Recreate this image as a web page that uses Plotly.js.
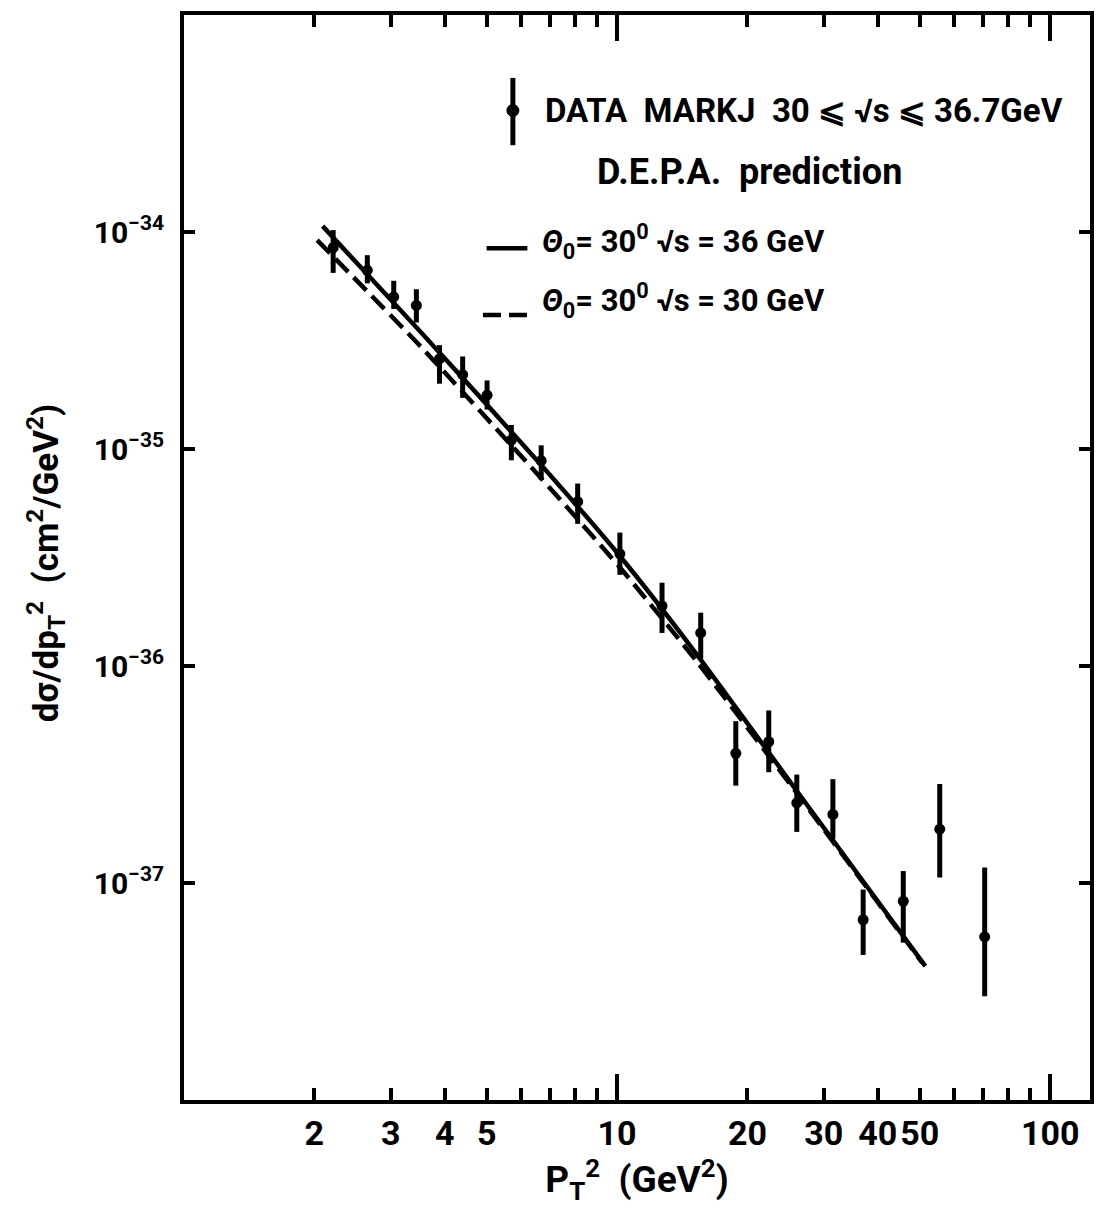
<!DOCTYPE html>
<html>
<head>
<meta charset="utf-8">
<script src="https://cdn.plot.ly/plotly-3.0.1.min.js"></script>
<style>html,body{margin:0;padding:0;background:#fff;}#chart{width:1096px;height:1218px;}</style>
</head>
<body>
<div id="chart"></div>
<script>
// ---- data ----
const ptSq   = [2.21, 2.65, 3.05, 3.44, 3.89, 4.40, 5.01, 5.70, 6.68, 8.11, 10.15, 12.7, 15.6, 18.8, 22.4, 26.0, 31.5, 37.0, 45.8, 55.6, 70.6];
const dsig   = [8.48e-35, 6.66e-35, 5.02e-35, 4.59e-35, 2.60e-35, 2.20e-35, 1.77e-35, 1.10e-35, 8.83e-36, 5.72e-36, 3.29e-36, 1.89e-36, 1.42e-36, 3.96e-37, 4.48e-37, 2.34e-37, 2.07e-37, 6.77e-38, 8.24e-38, 1.77e-37, 5.65e-38];
const dsigHi = [1.02e-34, 7.82e-35, 5.96e-35, 5.45e-35, 3.01e-35, 2.67e-35, 2.07e-35, 1.29e-35, 1.04e-35, 6.93e-36, 4.12e-36, 2.42e-36, 1.76e-36, 5.57e-37, 6.24e-37, 3.16e-37, 3.01e-37, 9.33e-38, 1.135e-37, 2.86e-37, 1.18e-37];
const dsigLo = [6.48e-35, 5.80e-35, 4.42e-35, 3.83e-35, 2.00e-35, 1.72e-35, 1.52e-35, 8.87e-36, 7.21e-36, 4.52e-36, 2.63e-36, 1.42e-36, 1.08e-36, 2.81e-37, 3.24e-37, 1.72e-37, 1.60e-37, 4.66e-38, 5.31e-38, 1.06e-37, 3.01e-38];

const pred36x = [2.09, 3.55, 6.64, 10.14, 15.3, 26.7, 51.5];
const pred36y = [1.064e-34, 3.40e-35, 8.56e-36, 3.22e-36, 1.126e-36, 2.47e-37, 4.14e-38];
const pred30x = [2.03, 3.54, 6.63, 10.13, 15.3, 26.7, 50.7];
const pred30y = [9.17e-35, 2.93e-35, 7.45e-36, 2.86e-36, 1.045e-36, 2.42e-37, 4.28e-38];

const xTickVals = [2, 3, 4, 5, 6, 7, 8, 9, 10, 20, 30, 40, 50, 60, 70, 80, 90, 100];
const xTickText = ["2", "3", "4", "5", "", "", "", "", "10", "20", "30", "40", "50", "", "", "", "", "100"];
const xMajorVals = [10, 100];
const yTickVals = [1e-37, 1e-36, 1e-35, 1e-34];
const yTickText = ["10<sup>−37</sup>", "10<sup>−36</sup>", "10<sup>−35</sup>", "10<sup>−34</sup>"];

// ---- chart ----
const FONT = 'Roboto, "Liberation Sans", sans-serif';

const errPlus = dsigHi.map((h, i) => h - dsig[i]);
const errMinus = dsigLo.map((l, i) => dsig[i] - l);

const traces = [
  {x: pred36x, y: pred36y, type: 'scatter', mode: 'lines', line: {color: '#000', width: 4.5, shape: 'spline', smoothing: 0.6}, hoverinfo: 'skip', showlegend: false},
  {x: pred30x, y: pred30y, type: 'scatter', mode: 'lines', line: {color: '#000', width: 4.5, dash: '18px,8px', shape: 'spline', smoothing: 0.6}, hoverinfo: 'skip', showlegend: false},
  {x: ptSq, y: dsig, type: 'scatter', mode: 'markers', marker: {color: '#000', size: 11},
   error_y: {type: 'data', symmetric: false, array: errPlus, arrayminus: errMinus, color: '#000', thickness: 5, width: 0},
   showlegend: false},
  // carrier for the long decade ticks
  {x: [10], y: [1e-33], xaxis: 'x2', yaxis: 'y', mode: 'markers', marker: {opacity: 0}, hoverinfo: 'skip', showlegend: false}
];

const xRange = [0, 2.092];
const layout = {
  width: 1096, height: 1218,
  margin: {l: 184, r: 6, t: 15, b: 118},
  paper_bgcolor: '#fff', plot_bgcolor: '#fff',
  showlegend: false,
  font: {family: FONT, color: '#000', weight: 700},
  xaxis: {
    type: 'log', range: xRange,
    tickvals: xTickVals, ticktext: xTickText, tickangle: 0,
    ticks: 'inside', ticklen: 12, tickwidth: 4, tickcolor: '#000',
    showline: true, linewidth: 4, linecolor: '#000', mirror: 'ticks',
    showgrid: false, zeroline: false,
    tickfont: {family: FONT, size: 34, weight: 700},
    ticklabelstandoff: 0,
    title: {text: 'P<sub>T</sub><sup>2</sup>  (GeV<sup>2</sup>)', font: {family: FONT, size: 37, weight: 700}, standoff: 14}
  },
  xaxis2: {
    type: 'log', range: xRange, overlaying: 'x', anchor: 'y', side: 'bottom',
    tickvals: xMajorVals, showticklabels: false,
    ticks: 'inside', ticklen: 26, tickwidth: 4, tickcolor: '#000', mirror: 'ticks',
    showline: false, showgrid: false, zeroline: false
  },
  yaxis: {
    type: 'log', range: [-38, -33],
    tickvals: yTickVals, ticktext: yTickText,
    ticks: 'inside', ticklen: 11, tickwidth: 4, tickcolor: '#000',
    showline: true, linewidth: 4, linecolor: '#000', mirror: 'ticks',
    showgrid: false, zeroline: false,
    tickfont: {family: FONT, size: 30, weight: 700},
    ticklabelstandoff: 10
  },
  annotations: [
    {xref: 'paper', yref: 'paper', x: -0.152, y: 0.495, xanchor: 'center', yanchor: 'middle', textangle: -90, showarrow: false,
     text: 'dσ/dp<sub>T</sub><sup>2</sup>  (cm<sup>2</sup>/GeV<sup>2</sup>)',
     font: {family: FONT, size: 35, weight: 700}},
    {xref: 'paper', yref: 'paper', x: 0.396, y: 0.912, xanchor: 'left', yanchor: 'middle', showarrow: false,
     text: 'DATA  MARKJ  30 ⩽ √s ⩽ 36.7GeV', font: {family: FONT, size: 33, weight: 700}},
    {xref: 'paper', yref: 'paper', x: 0.624, y: 0.855, xanchor: 'center', yanchor: 'middle', showarrow: false,
     text: 'D.E.P.A.  prediction', font: {family: FONT, size: 36, weight: 700}},
    {xref: 'paper', yref: 'paper', x: 0.393, y: 0.791, xanchor: 'left', yanchor: 'middle', showarrow: false,
     text: '<i>Θ</i><sub>0</sub>= 30<sup>0</sup> √s = 36 GeV', font: {family: FONT, size: 31, weight: 700}},
    {xref: 'paper', yref: 'paper', x: 0.393, y: 0.737, xanchor: 'left', yanchor: 'middle', showarrow: false,
     text: '<i>Θ</i><sub>0</sub>= 30<sup>0</sup> √s = 30 GeV', font: {family: FONT, size: 31, weight: 700}}
  ],
  shapes: [
    {type: 'line', xref: 'paper', yref: 'paper', x0: 0.363, x1: 0.363, y0: 0.880, y1: 0.942, line: {color: '#000', width: 5}},
    {type: 'circle', xref: 'paper', yref: 'paper', xsizemode: 'pixel', ysizemode: 'pixel', xanchor: 0.363, yanchor: 0.912,
     x0: -6, x1: 6, y0: -6, y1: 6, fillcolor: '#000', line: {color: '#000', width: 1}},
    {type: 'line', xref: 'paper', yref: 'paper', x0: 0.334, x1: 0.379, y0: 0.785, y1: 0.785, line: {color: '#000', width: 4.5}},
    {type: 'line', xref: 'paper', yref: 'paper', x0: 0.330, x1: 0.379, y0: 0.7235, y1: 0.7235, line: {color: '#000', width: 4.5, dash: '18px,8px'}}
  ]
};

Plotly.newPlot('chart', traces, layout, {displayModeBar: false, staticPlot: true});
</script>
</body>
</html>
